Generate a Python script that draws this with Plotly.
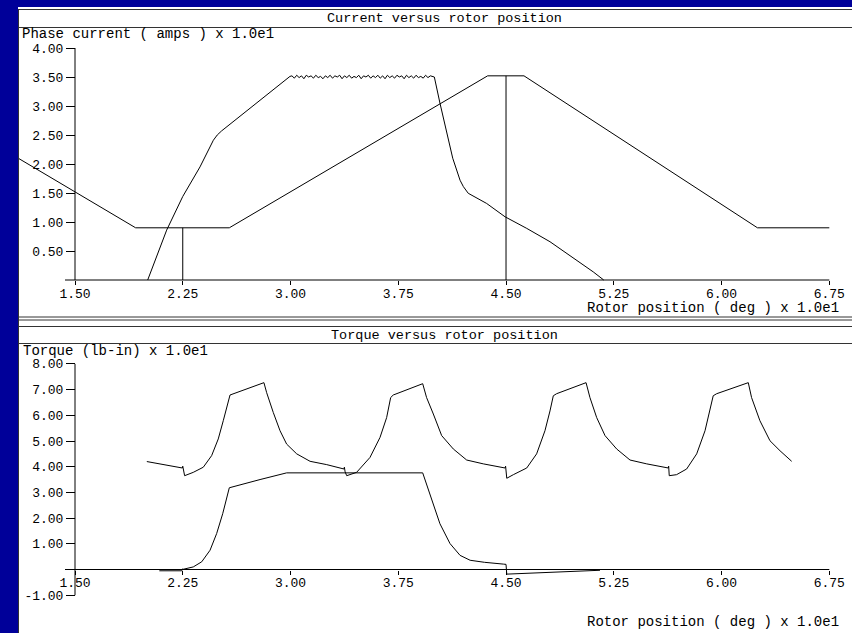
import numpy as np
import plotly.graph_objects as go

W, H = 852, 633

# ---- data (rotor position in units of 10 deg) ----
tick_pos = [1.50, 2.25, 3.00, 3.75, 4.50, 5.25, 6.00, 6.75]
tick_txt = ["1.50", "2.25", "3.00", "3.75", "4.50", "5.25", "6.00", "6.75"]

cur_ticks = [0.5, 1.0, 1.5, 2.0, 2.5, 3.0, 3.5, 4.0]
cur_ticktxt = ["0.50", "1.00", "1.50", "2.00", "2.50", "3.00", "3.50", "4.00"]

trq_ticks = [-1, 1, 2, 3, 4, 5, 6, 7, 8]
trq_ticktxt = ["-1.00", "1.00", "2.00", "3.00", "4.00", "5.00", "6.00", "7.00", "8.00"]

# commanded current profile (amps x 10)
ref_x = [1.05, 1.922, 2.574, 4.372, 4.625, 6.25, 6.75]
ref_y = [2.18, 0.90, 0.90, 3.52, 3.52, 0.90, 0.90]

# position markers on the commanded profile
mark_x = [2.25, 2.25, None, 4.50, 4.50]
mark_y = [0.0, 0.90, None, 0.0, 3.52]

# phase current: rise, chopped flat top, tail
rise_x = [2.006, 2.138, 2.25, 2.37, 2.463, 2.49, 2.52, 2.556, 2.625, 2.70, 2.834, 2.92, 2.996]
rise_y = [0.0, 0.86, 1.44, 1.95, 2.41, 2.50, 2.57, 2.64, 2.78, 2.93, 3.18, 3.36, 3.51]
chop_y = [3.52, 3.48, 3.53, 3.49, 3.52, 3.47, 3.53, 3.50, 3.52, 3.48, 3.53, 3.49,
          3.51, 3.47, 3.52, 3.49, 3.53, 3.48, 3.52, 3.50, 3.53, 3.47, 3.52, 3.49,
          3.53, 3.48, 3.51, 3.49, 3.53, 3.47, 3.52, 3.50, 3.53, 3.48, 3.52, 3.49,
          3.53, 3.48, 3.52, 3.47, 3.53, 3.49, 3.52, 3.48, 3.53, 3.50, 3.52, 3.47,
          3.53, 3.49, 3.52, 3.48, 3.53, 3.49, 3.51, 3.48, 3.53, 3.49, 3.52, 3.50]
chop_x = list(np.linspace(3.01, 3.99, len(chop_y)))
tail_x = [4.001, 4.04, 4.129, 4.18, 4.203, 4.237, 4.365, 4.493, 4.644, 4.806, 4.992, 5.107, 5.18]
tail_y = [3.50, 3.05, 2.10, 1.72, 1.61, 1.495, 1.32, 1.09, 0.89, 0.66, 0.34, 0.14, 0.0]

# total torque (lb-in x 10)
tot_x = [2.00, 2.247, 2.250, 2.255, 2.263, 2.323, 2.393, 2.451, 2.497, 2.532, 2.560, 2.579,
         2.815, 2.834, 2.880, 2.927, 2.973, 3.043, 3.136, 3.252, 3.372, 3.375, 3.380, 3.391,
         3.460, 3.553, 3.623, 3.669, 3.697, 3.715, 3.920, 3.947, 3.994, 4.052, 4.133, 4.226,
         4.342, 4.493, 4.497, 4.500, 4.505, 4.551, 4.644, 4.713, 4.771, 4.806, 4.829, 4.852,
         5.057, 5.084, 5.131, 5.189, 5.270, 5.363, 5.479, 5.629, 5.632, 5.636, 5.687, 5.757,
         5.827, 5.885, 5.920, 5.942, 5.966, 6.186, 6.209, 6.267, 6.337, 6.407, 6.488]
tot_y = [4.20, 3.95, 4.02, 3.80, 3.65, 3.78, 3.98, 4.43, 5.08, 5.79, 6.43, 6.79,
         7.27, 6.88, 6.11, 5.40, 4.88, 4.50, 4.21, 4.08, 3.91, 3.98, 3.80, 3.65,
         3.78, 4.36, 5.14, 5.91, 6.69, 6.79, 7.23, 6.69, 6.05, 5.21, 4.69, 4.26,
         4.11, 3.95, 4.02, 3.70, 3.55, 3.69, 3.95, 4.50, 5.40, 6.17, 6.76, 6.84,
         7.27, 6.69, 5.91, 5.21, 4.69, 4.26, 4.11, 3.95, 4.02, 3.65, 3.69, 3.91,
         4.50, 5.40, 6.17, 6.76, 6.84, 7.27, 6.69, 5.79, 5.01, 4.62, 4.21]

# single-phase torque
ph_x = [2.087, 2.243, 2.250, 2.254, 2.323, 2.382, 2.440, 2.486, 2.528, 2.555, 2.574, 2.788,
        2.973, 3.920, 3.947, 3.994, 4.040, 4.110, 4.180, 4.25, 4.35, 4.481, 4.500, 4.505,
        4.70, 4.90, 5.05, 5.154]
ph_y = [-0.05, -0.05, 0.03, 0.01, 0.10, 0.30, 0.75, 1.40, 2.17, 2.81, 3.18, 3.50,
        3.76, 3.76, 3.33, 2.56, 1.78, 1.01, 0.55, 0.36, 0.28, 0.21, 0.20, -0.18,
        -0.14, -0.09, -0.05, -0.03]

# ---- page geometry (pixels) ----
BLUE = "#000099"
INK = "#000000"
FRAME = "#333333"
FONT = "Liberation Mono"

X_LEFT_PX, X_RIGHT_PX = 19, 851
X150_PX, X675_PX = 75, 829.3
kx = (X675_PX - X150_PX) / 5.25
x_range = [1.5 - (X150_PX - X_LEFT_PX) / kx, 6.75 + (X_RIGHT_PX - X675_PX) / kx]

# panel 1: y=0 at 280 px, 58 px per unit
p1_zero, p1_k, p1_top, p1_bot = 280.0, 58.0, 28.0, 318.0
# panel 2: y=0 at 569.5 px, 25.7 px per unit
p2_zero, p2_k, p2_top, p2_bot = 569.5, 25.7, 344.0, 633.0


def px(x):
    return x / W


def py(y):
    return 1 - y / H


line = dict(color=INK, width=1)
fig = go.Figure()
fig.add_trace(go.Scatter(x=ref_x, y=ref_y, mode="lines", line=line, xaxis="x", yaxis="y"))
fig.add_trace(go.Scatter(x=mark_x, y=mark_y, mode="lines", line=line, xaxis="x", yaxis="y"))
fig.add_trace(go.Scatter(x=rise_x + chop_x + tail_x, y=rise_y + chop_y + tail_y,
                         mode="lines", line=line, xaxis="x", yaxis="y"))
fig.add_trace(go.Scatter(x=tot_x, y=tot_y, mode="lines", line=line, xaxis="x2", yaxis="y2"))
fig.add_trace(go.Scatter(x=ph_x, y=ph_y, mode="lines", line=line, xaxis="x2", yaxis="y2"))

tickfont = dict(family=FONT, size=13, color=INK)
xcommon = dict(domain=[px(X_LEFT_PX), px(X_RIGHT_PX)], range=x_range, anchor="free",
               tickvals=tick_pos, ticktext=tick_txt, ticks="outside", ticklen=4,
               tickcolor=INK, tickwidth=1, showgrid=False, zeroline=False,
               showline=False, tickfont=tickfont, ticklabelstandoff=-3)
ycommon = dict(anchor="free", position=px(X150_PX), ticks="outside", ticklen=9,
               tickcolor=INK, tickwidth=1, showgrid=False, zeroline=False,
               showline=False, tickfont=tickfont)

fig.update_layout(
    width=W, height=H, margin=dict(l=0, r=0, t=0, b=0),
    paper_bgcolor=BLUE, plot_bgcolor="rgba(0,0,0,0)", showlegend=False,
    xaxis=dict(xcommon, position=py(p1_zero)),
    yaxis=dict(ycommon, domain=[py(p1_bot), py(p1_top)],
               range=[(p1_zero - p1_bot) / p1_k, (p1_zero - p1_top) / p1_k],
               tickvals=cur_ticks, ticktext=cur_ticktxt),
    xaxis2=dict(xcommon, position=py(p2_zero)),
    yaxis2=dict(ycommon, domain=[py(p2_bot), py(p2_top)],
                range=[(p2_zero - p2_bot) / p2_k, (p2_zero - p2_top) / p2_k],
                tickvals=trq_ticks, ticktext=trq_ticktxt),
)

shapes = [dict(type="rect", xref="paper", yref="paper", x0=px(18), x1=1, y0=0, y1=py(7),
               fillcolor="white", line_width=0, layer="below")]
for yy in (9.5, 27.5, 317.0, 320.0, 326.5, 343.5):
    shapes.append(dict(type="line", xref="paper", yref="paper", x0=px(18), x1=1,
                       y0=py(yy), y1=py(yy), line=dict(color=FRAME, width=1)))
shapes.append(dict(type="line", xref="paper", yref="paper", x0=px(18.5), x1=px(18.5),
                   y0=0, y1=py(9.5), line=dict(color=FRAME, width=1)))
# axis lines drawn in data units
shapes.append(dict(type="line", xref="x", yref="y", x0=1.5, x1=1.5, y0=0, y1=4,
                   line=dict(color=INK, width=1)))
shapes.append(dict(type="line", xref="x", yref="y", x0=1.5 - 10 / kx, x1=6.75, y0=0, y1=0,
                   line=dict(color=INK, width=1)))
shapes.append(dict(type="line", xref="x2", yref="y2", x0=1.5, x1=1.5, y0=-1, y1=8,
                   line=dict(color=INK, width=1)))
shapes.append(dict(type="line", xref="x2", yref="y2", x0=1.5 - 10 / kx, x1=6.75, y0=0, y1=0,
                   line=dict(color=INK, width=1)))
fig.update_layout(shapes=shapes)

tfont = dict(family=FONT, size=14, color=INK)
notes = [
    ("Current versus rotor position", 444, 18.5, 13.5, "center"),
    ("Phase current ( amps ) x 1.0e1", 20, 34, 14, "left"),
    ("Rotor position ( deg ) x 1.0e1", 841, 308, 14, "right"),
    ("Torque versus rotor position", 444, 335, 13.5, "center"),
    ("Torque (lb-in) x 1.0e1", 21, 351, 14, "left"),
    ("Rotor position ( deg ) x 1.0e1", 841, 622, 14, "right"),
]
fig.update_layout(annotations=[
    dict(text=t, x=px(xx), y=py(yy), xref="paper", yref="paper", xanchor=a,
         yanchor="middle", showarrow=False, font=dict(tfont, size=fs))
    for t, xx, yy, fs, a in notes
])

fig.write_html("out.html")
